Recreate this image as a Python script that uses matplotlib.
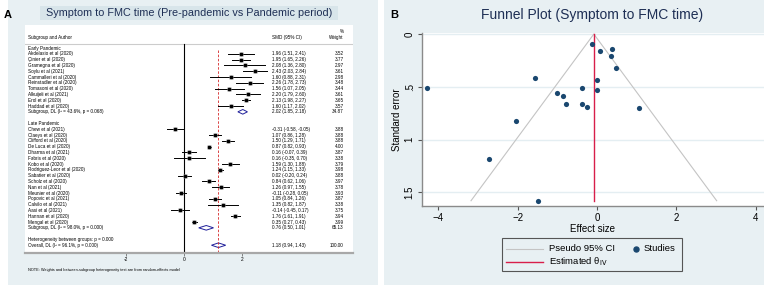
import matplotlib
matplotlib.use("Agg")
import matplotlib.pyplot as plt
from matplotlib.patches import Rectangle, Polygon
from matplotlib.lines import Line2D

plt.rcParams["font.family"] = ["Liberation Sans", "DejaVu Sans"]

# ---------------- forest plot data (panel A) ----------------
early_names = ["Akdelasio et al (2020)", "Çinier et al (2020)", "Gramegna et al (2020)",
               "Soylu et al (2021)", "Cammalleri et al (2020)", "Reinstadler et al (2020)",
               "Tomasoni et al (2020)", "Alkuijeli et al (2021)", "Erol et al (2020)",
               "Haddad et al (2020)"]
early_smd = [1.96, 1.95, 2.08, 2.43, 1.60, 2.26, 1.56, 2.20, 2.13, 1.60]
early_lo = [1.51, 1.65, 1.36, 2.03, 0.88, 1.78, 1.07, 1.79, 1.98, 1.17]
early_hi = [2.41, 2.26, 2.80, 2.84, 2.31, 2.73, 2.05, 2.60, 2.27, 2.02]
early_w = [3.52, 3.77, 2.97, 3.61, 2.98, 3.48, 3.44, 3.61, 3.65, 3.57]
early_sub = (2.02, 1.85, 2.18, 34.87, "Subgroup, DL (I² = 43.6%, p = 0.068)")

late_names = ["Chew et al (2021)", "Claeys et al (2020)", "Clifford et al (2020)",
              "De Luca et al (2020)", "Dharma et al (2021)", "Fabris et al (2020)",
              "Kobo et al (2020)", "Rodriguez-Leor et al (2020)", "Sabatier et al (2020)",
              "Scholz et al (2020)", "Nan et al (2021)", "Meunier et al (2020)",
              "Popovic et al (2021)", "Calvilo et al (2021)", "Aasi et al (2021)",
              "Hannan et al (2020)", "Mengal et al (2020)"]
late_smd = [-0.31, 1.07, 1.50, 0.87, 0.16, 0.16, 1.59, 1.24, 0.02, 0.84, 1.26, -0.11,
            1.05, 1.35, -0.14, 1.76, 0.35]
late_lo = [-0.58, 0.86, 1.29, 0.82, -0.07, -0.35, 1.30, 1.15, -0.20, 0.62, 0.97, -0.28,
           0.84, 0.82, -0.45, 1.61, 0.27]
late_hi = [-0.05, 1.28, 1.71, 0.93, 0.39, 0.70, 1.88, 1.33, 0.24, 1.06, 1.55, 0.05,
           1.26, 1.87, 0.17, 1.91, 0.43]
late_w = [3.88, 3.88, 3.88, 4.00, 3.87, 3.38, 3.79, 3.98, 3.88, 3.97, 3.78, 3.93,
          3.87, 3.38, 3.75, 3.94, 3.99]
late_sub = (0.76, 0.50, 1.01, 65.13, "Subgroup, DL (I² = 98.0%, p = 0.000)")
overall = (1.18, 0.94, 1.43, 100.00, "Overall, DL (I² = 96.1%, p = 0.000)")
het_text = "Heterogeneity between groups: p = 0.000"

# ---------------- funnel plot data (panel B) ----------------
funnel_es = [-4.28, -1.57, -2.05, -1.02, -0.85, -0.77, -0.13, 0.08, 0.38, 0.34, 0.48,
             -0.01, 0.00, -0.39, -0.39, -0.25, 1.06, -2.73, -1.49]
funnel_se = [0.51, 0.42, 0.82, 0.56, 0.59, 0.66, 0.09, 0.16, 0.14, 0.21, 0.32,
             0.44, 0.53, 0.51, 0.66, 0.69, 0.70, 1.18, 1.58]
theta_iv = -0.08

W, H = 764, 285
fig = plt.figure(figsize=(W / 100, H / 100), dpi=100)
fig.patch.set_facecolor("white")

bg = "#e8f0f3"
navy = "#1a476f"
red = "#d81e4a"
grey_ci = "#c4c4c4"


def fx(px):
    return px / W


def fy(py):
    return 1 - py / H


def frect(x, y, w, h, **kw):
    # rectangle in pixel coords (top-left origin)
    fig.patches.append(Rectangle((fx(x), fy(y + h)), fx(w), h / H,
                                 transform=fig.transFigure, **kw))


# panel backgrounds
frect(8, 0, 370, 285, facecolor=bg, edgecolor="none", zorder=-3)
frect(384, 0, 380, 285, facecolor=bg, edgecolor="none", zorder=-3)
# title box panel A
frect(40, 6, 298, 14, facecolor="#d8e5ea", edgecolor="none", zorder=-2)

fig.text(fx(4), fy(15), "A", fontsize=8, fontweight="bold", va="center")
fig.text(fx(390), fy(15), "B", fontsize=8, fontweight="bold", va="center")
fig.text(fx(189), fy(13), "Symptom to FMC time (Pre-pandemic vs Pandemic period)",
         fontsize=7.8, color="#1e2f55", ha="center", va="center")

# ---------------- panel A ----------------
ax = fig.add_axes([fx(25), 1 - 253 / H, fx(327.7), 228 / H])
ax.set_facecolor("white")
ax.set_xlim(-5.49, 5.81)
ax.set_ylim(35.34, -3.97)
for s in ["top", "right", "left"]:
    ax.spines[s].set_visible(False)
ax.spines["bottom"].set_color("#a8a8a8")
ax.spines["bottom"].set_linewidth(1.6)
ax.set_yticks([])
ax.set_xticks([-2, 0, 2])
ax.set_xticklabels(["-2", "0", "2"])
ax.tick_params(axis="x", labelsize=3.5, length=2, width=0.5, color="#555555", pad=1)

tr = ax.get_yaxis_transform()
fs = 3.3
c_name, c_smd, c_w = 0.009, 0.754, 0.972

ax.text(c_name, -1.9, "Subgroup and Author", transform=tr, fontsize=fs, va="center")
ax.text(c_smd, -1.9, "SMD (95% CI)", transform=tr, fontsize=fs, va="center")
ax.text(c_w, -2.9, "%", transform=tr, fontsize=fs, va="center", ha="right")
ax.text(c_w, -1.9, "Weight", transform=tr, fontsize=fs, va="center", ha="right")
ax.axhline(-0.69, color="#cccccc", lw=0.8)
ax.plot([0, 0], [-0.69, 35.34], color="black", lw=0.8)
ax.plot([overall[0], overall[0]], [0.3, 35.34], color="#d62728", lw=0.6, ls=(0, (3, 2)))


def study_rows(start, names, smd, lo, hi, w):
    for i in range(len(names)):
        r = start + i
        ax.plot([lo[i], hi[i]], [r, r], color="black", lw=0.7)
        ax.plot(smd[i], r, marker="s", ms=3.2 * (w[i] / 4) ** 0.5, color="#8c8c8c",
                mec="none", ls="none")
        ax.plot(smd[i], r, marker="s", ms=1.4, color="black", ls="none")
        ax.text(c_name, r, names[i], transform=tr, fontsize=fs, va="center")
        ax.text(c_smd, r, "%.2f (%.2f, %.2f)" % (smd[i], lo[i], hi[i]), transform=tr,
                fontsize=fs, va="center")
        ax.text(c_w, r, "%.2f" % w[i], transform=tr, fontsize=fs, va="center", ha="right")


def diamond(r, est):
    m, lo, hi, w, label = est
    ax.add_patch(Polygon([[lo, r], [m, r - 0.4], [hi, r], [m, r + 0.4]], closed=True,
                         facecolor="white", edgecolor="#1f1f9a", lw=0.7))
    ax.text(c_name, r, label, transform=tr, fontsize=fs, va="center")
    ax.text(c_smd, r, "%.2f (%.2f, %.2f)" % (m, lo, hi), transform=tr, fontsize=fs,
            va="center")
    ax.text(c_w, r, "%.2f" % w, transform=tr, fontsize=fs, va="center", ha="right")


ax.text(c_name, 0, "Early Pandemic", transform=tr, fontsize=fs, va="center")
study_rows(1, early_names, early_smd, early_lo, early_hi, early_w)
diamond(11, early_sub)
ax.text(c_name, 13, "Late Pandemic", transform=tr, fontsize=fs, va="center")
study_rows(14, late_names, late_smd, late_lo, late_hi, late_w)
diamond(31, late_sub)
ax.text(c_name, 33, het_text, transform=tr, fontsize=fs, va="center")
diamond(34, overall)

fig.text(fx(28), fy(269.5),
         "NOTE: Weights and between-subgroup heterogeneity test are from random-effects model",
         fontsize=2.8, va="center")

# ---------------- panel B ----------------
bx = fig.add_axes([fx(421.7), 1 - 206 / H, fx(764 - 421.7), 173 / H])
bx.set_facecolor("white")
bx.set_xlim(-4.42, 4.21)
bx.set_ylim(1.63, -0.01)
for s in ["top", "right"]:
    bx.spines[s].set_visible(False)
for s in ["left", "bottom"]:
    bx.spines[s].set_color("#8a8a8a")
    bx.spines[s].set_linewidth(1.0)
bx.set_yticks([0, 0.5, 1, 1.5])
bx.set_yticklabels(["0", ".5", "1", "1.5"], rotation=90, va="center")
bx.set_xticks([-4, -2, 0, 2, 4])
bx.tick_params(labelsize=7, length=3, width=0.8, color="#555555", pad=2)
bx.grid(axis="y", color="#e4eef2", lw=1)
bx.set_axisbelow(True)
bx.set_ylabel("Standard error", fontsize=7, labelpad=2)
bx.set_xlabel("Effect size", fontsize=7, labelpad=1)

se_max = max(funnel_se)
ci_x = [theta_iv - 1.96 * se_max, theta_iv, theta_iv + 1.96 * se_max]
ci_y = [se_max, 0, se_max]
bx.plot(ci_x, ci_y, color=grey_ci, lw=0.8, zorder=2)
bx.plot([theta_iv, theta_iv], [0, se_max], color=red, lw=1.0, zorder=3)
bx.scatter(funnel_es, funnel_se, s=14, color=navy, zorder=4, linewidths=0)

fig.text(fx(592.5), fy(15), "Funnel Plot (Symptom to FMC time)", fontsize=10,
         color="#1e2f55", ha="center", va="center")

# legend drawn by hand so the layout follows the Stata box
frect(502.3, 238.3, 179.4, 32.4, facecolor=bg, edgecolor="#555555", lw=0.8, zorder=1)
lfs = 6.8
fig.lines.append(Line2D([fx(506), fx(543)], [fy(248.5), fy(248.5)], color=grey_ci,
                        lw=0.8, transform=fig.transFigure))
fig.lines.append(Line2D([fx(506), fx(543)], [fy(262), fy(262)], color=red, lw=1.0,
                        transform=fig.transFigure))
fig.lines.append(Line2D([fx(636)], [fy(248.5)], color=navy, marker="o", ms=3.6,
                        ls="none", transform=fig.transFigure))
fig.text(fx(549), fy(248.5), "Pseudo 95% CI", fontsize=lfs, va="center")
fig.text(fx(549), fy(262), "Estimated θ$_{\\mathrm{IV}}$", fontsize=lfs, va="center")
fig.text(fx(644), fy(248.5), "Studies", fontsize=lfs, va="center")

fig.savefig("out.png", dpi=100, facecolor="white")
